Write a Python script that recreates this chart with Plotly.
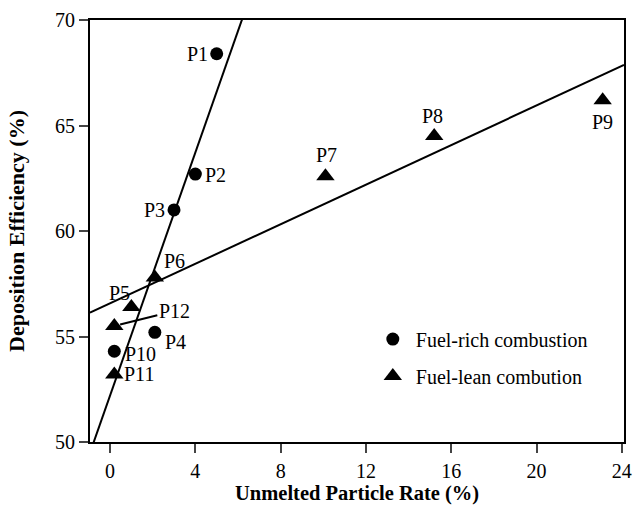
import plotly.graph_objects as go
import numpy as np

# Unmelted particle rate (%) and deposition efficiency (%) for each spray condition
rich_labels = ["P1", "P2", "P3", "P4", "P10"]
rich_x = [5.0, 4.0, 3.0, 2.1, 0.2]
rich_y = [68.4, 62.7, 61.0, 55.2, 54.3]

lean_labels = ["P5", "P6", "P7", "P8", "P9", "P11", "P12"]
lean_x = [1.0, 2.1, 10.1, 15.2, 23.1, 0.2, 0.2]
lean_y = [56.4, 57.8, 62.6, 64.5, 66.2, 53.2, 55.5]

# Linear trend lines (slope, intercept)
rich_fit = (2.88, 52.2)
lean_fit = (0.469, 56.57)

x_ticks = [0, 4, 8, 12, 16, 20, 24]
y_ticks = [50, 55, 60, 65, 70]
x_range = [-0.94, 24.1]
y_range = [50, 70]

FONT = "Liberation Serif, Times New Roman, serif"

fig = go.Figure()

xs = np.array(x_range)
for slope, icpt in (rich_fit, lean_fit):
    fig.add_trace(go.Scatter(
        x=xs, y=slope * xs + icpt, mode="lines",
        line=dict(color="black", width=2), showlegend=False, hoverinfo="skip"))

fig.add_trace(go.Scatter(
    x=rich_x, y=rich_y, mode="markers", name="Fuel-rich combustion",
    marker=dict(symbol="circle", size=13, color="black"),
    legendgroup="rich", cliponaxis=False))
fig.add_trace(go.Scatter(
    x=lean_x, y=lean_y, mode="markers", name="Fuel-lean combution",
    marker=dict(symbol="triangle-up", size=16, color="black"),
    legendgroup="lean", cliponaxis=False))

# Point labels: (x anchor, y anchor, x shift, y shift)
label_pos = {
    "P1": ("right", "middle", -7, 0),
    "P2": ("left", "middle", 8, -1),
    "P3": ("right", "middle", -7, 0),
    "P4": ("left", "middle", 8, -10),
    "P10": ("left", "middle", 9, -3),
    "P5": ("center", "middle", -12, 14),
    "P6": ("center", "middle", 20, 16),
    "P7": ("center", "middle", 1, 21),
    "P8": ("center", "middle", -2, 20),
    "P9": ("center", "middle", 0, -22),
    "P11": ("left", "middle", 8, 0),
}

for lab, x, y in list(zip(rich_labels, rich_x, rich_y)) + list(zip(lean_labels, lean_x, lean_y)):
    if lab == "P12":
        fig.add_annotation(
            x=x, y=y, text=lab, showarrow=True, arrowhead=0, arrowwidth=2,
            arrowcolor="black", ax=60, ay=-15, standoff=6,
            font=dict(family=FONT, size=20, color="black"))
        continue
    xa, ya, dx, dy = label_pos[lab]
    fig.add_annotation(
        x=x, y=y, text=lab, showarrow=False, xanchor=xa, yanchor=ya,
        xshift=dx, yshift=dy, font=dict(family=FONT, size=20, color="black"))

# x-axis title, placed just below the tick labels
fig.add_annotation(
    x=0.5, y=0, xref="paper", yref="paper", yanchor="middle", yshift=-51,
    text="<b>Unmelted Particle Rate (%)</b>", showarrow=False,
    font=dict(family=FONT, size=20.5, color="black"))

fig.update_layout(
    width=633, height=521,
    margin=dict(l=90, r=9, t=20, b=79),
    plot_bgcolor="white", paper_bgcolor="white",
    font=dict(family=FONT, size=20, color="black"),
    legend=dict(
        x=0.524, y=0.29, xanchor="left", yanchor="top",
        bgcolor="rgba(0,0,0,0)", font=dict(family=FONT, size=20),
        tracegroupgap=8, traceorder="grouped", itemwidth=36),
)
fig.update_xaxes(
    range=x_range, tickvals=x_ticks, ticks="outside", ticklen=9, tickwidth=2,
    showline=True, linewidth=2, linecolor="black", mirror=True,
    showgrid=False, zeroline=False, automargin=False, ticklabelstandoff=1,
    tickfont=dict(family=FONT, size=20))
fig.update_yaxes(
    range=y_range, tickvals=y_ticks, ticks="outside", ticklen=9, tickwidth=2,
    showline=True, linewidth=2, linecolor="black", mirror=True,
    showgrid=False, zeroline=False, automargin=False,
    tickfont=dict(family=FONT, size=20),
    title=dict(text="<b>Deposition Efficiency (%)</b>", standoff=24,
               font=dict(family=FONT, size=22)))

fig.write_html("out.html")
